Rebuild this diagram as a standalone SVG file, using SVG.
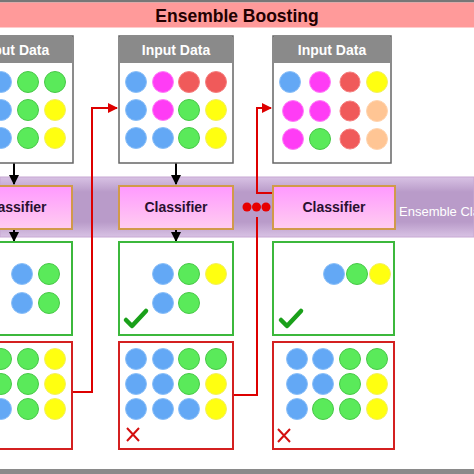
<svg xmlns="http://www.w3.org/2000/svg" width="474" height="474" viewBox="0 0 474 474">
<defs>
<linearGradient id="band" x1="0" y1="0" x2="0" y2="1">
<stop offset="0" stop-color="#d8c2e4"/>
<stop offset="0.25" stop-color="#b99bc9"/>
<stop offset="0.75" stop-color="#b99bc9"/>
<stop offset="1" stop-color="#d8c2e4"/>
</linearGradient>
<linearGradient id="cls" x1="0" y1="0" x2="0" y2="1">
<stop offset="0" stop-color="#ff99ff"/>
<stop offset="1" stop-color="#ffcdf0"/>
</linearGradient>
<marker id="ab" viewBox="0 0 10 10" refX="9" refY="5" markerWidth="5" markerHeight="5" orient="auto"><path d="M0,0 L10,5 L0,10 z" fill="#000"/></marker>
<marker id="ar" viewBox="0 0 10 10" refX="9" refY="5" markerWidth="5" markerHeight="5" orient="auto"><path d="M0,0 L10,5 L0,10 z" fill="#dd0000"/></marker>
</defs>
<style>
.t{font-family:"Liberation Sans",Arial,sans-serif;font-weight:bold;text-anchor:middle}
.box{fill:#fff;stroke:#666;stroke-width:1.5}
.hdr{fill:#8a8a8a}
.ht{font-size:14px;fill:#fff}
.cb{fill:url(#cls);stroke:#d19a4a;stroke-width:2}
.ct{font-size:14px;fill:#2a1030}
.gb{fill:#fff;stroke:#3cb83c;stroke-width:2}
.rb{fill:#fff;stroke:#d42020;stroke-width:2}
.b{fill:#63a8f5;stroke:#8cc0f8;stroke-width:1}
.g{fill:#5aea5a;stroke:#48c848;stroke-width:1}
.y{fill:#ffff10;stroke:#f4f060;stroke-width:1}
.m{fill:#ff3cf5;stroke:#ff80f8;stroke-width:1}
.r{fill:#f05a5a;stroke:#f58080;stroke-width:1}
.p{fill:#ffc594;stroke:#ffd5b0;stroke-width:1}
.blk{stroke:#000;stroke-width:2;fill:none}
.red{stroke:#dd0000;stroke-width:2;fill:none}
</style>
<rect x="0" y="0" width="474" height="474" fill="#fff"/>
<g id="title">
<rect x="0" y="0" width="474" height="2.5" fill="#777"/>
<rect x="0" y="2.5" width="474" height="25" fill="#ff9a9a"/>
<text class="t" x="237" y="22" font-size="17.5" fill="#200">Ensemble Boosting</text>
</g>
<g id="ensemble">
<rect x="0" y="177" width="474" height="60" fill="url(#band)" stroke="#c7a8d3" stroke-width="1"/>
<text x="399" y="216" font-family="Liberation Sans,Arial,sans-serif" font-size="13" fill="#fff">Ensemble Classifier</text>
</g>
<g id="connectors">
<line class="blk" x1="14" y1="163" x2="14" y2="184" marker-end="url(#ab)"/>
<line class="blk" x1="176" y1="163" x2="176" y2="184" marker-end="url(#ab)"/>
<line class="blk" x1="14" y1="229" x2="14" y2="241" marker-end="url(#ab)"/>
<line class="blk" x1="176" y1="229" x2="176" y2="241" marker-end="url(#ab)"/>
<path class="red" d="M73,392 H92 V108 H117" marker-end="url(#ar)"/>
<path class="red" d="M234,395 H257 V217"/>
<path class="red" d="M273,193 H257 V108 H271" marker-end="url(#ar)"/>
<circle cx="247" cy="207" r="4.5" fill="#e80000"/>
<circle cx="256.5" cy="207" r="4.5" fill="#e80000"/>
<circle cx="266" cy="207" r="4.5" fill="#e80000"/>
</g>
<g id="input1">
<rect class="box" x="-42" y="36" width="115" height="127"/>
<rect class="hdr" x="-41" y="37" width="113" height="26"/>
<text class="t ht" x="15" y="55">Input Data</text>
<circle class="b" cx="1" cy="82" r="10.5"/><circle class="g" cx="28" cy="82" r="10.5"/><circle class="g" cx="55" cy="82" r="10.5"/>
<circle class="b" cx="1" cy="110" r="10.5"/><circle class="g" cx="28" cy="110" r="10.5"/><circle class="y" cx="55" cy="110" r="10.5"/>
<circle class="b" cx="1" cy="138" r="10.5"/><circle class="g" cx="28" cy="138" r="10.5"/><circle class="y" cx="55" cy="138" r="10.5"/>
</g>
<g id="input2">
<rect class="box" x="119" y="36" width="114" height="127"/>
<rect class="hdr" x="120" y="37" width="112" height="26"/>
<text class="t ht" x="176" y="55">Input Data</text>
<circle class="b" cx="136" cy="82" r="10.5"/><circle class="m" cx="163" cy="82" r="10.5"/><circle class="r" cx="189" cy="82" r="10.5"/><circle class="r" cx="216" cy="82" r="10.5"/>
<circle class="b" cx="136" cy="110" r="10.5"/><circle class="m" cx="163" cy="110" r="10.5"/><circle class="g" cx="189" cy="110" r="10.5"/><circle class="y" cx="216" cy="110" r="10.5"/>
<circle class="b" cx="136" cy="138" r="10.5"/><circle class="b" cx="163" cy="138" r="10.5"/><circle class="g" cx="189" cy="138" r="10.5"/><circle class="y" cx="216" cy="138" r="10.5"/>
</g>
<g id="input3">
<rect class="box" x="273" y="36" width="118" height="127"/>
<rect class="hdr" x="274" y="37" width="116" height="26"/>
<text class="t ht" x="332" y="55">Input Data</text>
<circle class="b" cx="290" cy="82" r="10.5"/><circle class="m" cx="320" cy="82" r="10.5"/><circle class="r" cx="350" cy="82" r="10"/><circle class="y" cx="377" cy="82" r="10.5"/>
<circle class="m" cx="293" cy="111" r="10.5"/><circle class="m" cx="320" cy="111" r="10.5"/><circle class="r" cx="350" cy="111" r="10"/><circle class="p" cx="377" cy="111" r="10.5"/>
<circle class="m" cx="293" cy="139" r="10.5"/><circle class="g" cx="320" cy="139" r="10.5"/><circle class="r" cx="350" cy="139" r="10"/><circle class="p" cx="377" cy="139" r="10.5"/>
</g>
<g id="classifier1">
<rect class="cb" x="-42" y="186" width="114" height="43"/>
<text class="t ct" x="15" y="212">Classifier</text>
</g>
<g id="classifier2">
<rect class="cb" x="119" y="186" width="114" height="43"/>
<text class="t ct" x="176" y="212">Classifier</text>
</g>
<g id="classifier3">
<rect class="cb" x="273" y="186" width="122" height="43"/>
<text class="t ct" x="334" y="212">Classifier</text>
</g>
<g id="correct1">
<rect class="gb" x="-42" y="242" width="114" height="93"/>
<circle class="b" cx="22" cy="274" r="10.5"/><circle class="g" cx="49" cy="274" r="10.5"/>
<circle class="b" cx="22" cy="303" r="10.5"/><circle class="g" cx="49" cy="303" r="10.5"/>
</g>
<g id="correct2">
<rect class="gb" x="119" y="242" width="114" height="93"/>
<circle class="b" cx="163" cy="274" r="10.5"/><circle class="g" cx="189" cy="274" r="10.5"/><circle class="y" cx="216" cy="274" r="10.5"/>
<circle class="b" cx="163" cy="303" r="10.5"/><circle class="g" cx="189" cy="303" r="10.5"/>
<path d="M126,320 L132,326 L146,311" stroke="#1aa01a" stroke-width="4.5" fill="none" stroke-linecap="round" stroke-linejoin="round"/>
</g>
<g id="correct3">
<rect class="gb" x="273" y="242" width="121" height="93"/>
<circle class="b" cx="334" cy="274" r="10.5"/><circle class="g" cx="357" cy="274" r="10.5" stroke="#30b030"/><circle class="y" cx="380" cy="274" r="10.5"/>
<path d="M281,320 L287,326 L301,311" stroke="#1aa01a" stroke-width="4.5" fill="none" stroke-linecap="round" stroke-linejoin="round"/>
</g>
<g id="wrong1">
<rect class="rb" x="-42" y="342" width="114" height="107"/>
<circle class="g" cx="1" cy="359" r="10.5"/><circle class="g" cx="28" cy="359" r="10.5"/><circle class="y" cx="55" cy="359" r="10.5"/>
<circle class="g" cx="1" cy="384" r="10.5"/><circle class="g" cx="28" cy="384" r="10.5"/><circle class="y" cx="55" cy="384" r="10.5"/>
<circle class="b" cx="1" cy="409" r="10.5"/><circle class="g" cx="28" cy="409" r="10.5"/><circle class="y" cx="55" cy="409" r="10.5"/>
</g>
<g id="wrong2">
<rect class="rb" x="119" y="342" width="114" height="107"/>
<circle class="b" cx="136" cy="359" r="10.5"/><circle class="b" cx="163" cy="359" r="10.5"/><circle class="g" cx="189" cy="359" r="10.5"/><circle class="g" cx="216" cy="359" r="10.5"/>
<circle class="b" cx="136" cy="384" r="10.5"/><circle class="b" cx="163" cy="384" r="10.5"/><circle class="g" cx="189" cy="384" r="10.5"/><circle class="y" cx="216" cy="384" r="10.5"/>
<circle class="b" cx="136" cy="409" r="10.5"/><circle class="b" cx="163" cy="409" r="10.5"/><circle class="b" cx="189" cy="409" r="10.5"/><circle class="y" cx="216" cy="409" r="10.5"/>
<path d="M127,428 L139,441 M139,428 L127,441" stroke="#d41010" stroke-width="2"/>
</g>
<g id="wrong3">
<rect class="rb" x="273" y="342" width="121" height="107"/>
<circle class="b" cx="297" cy="359" r="10.5"/><circle class="b" cx="323" cy="359" r="10.5"/><circle class="g" cx="350" cy="359" r="10.5"/><circle class="g" cx="377" cy="359" r="10.5"/>
<circle class="b" cx="297" cy="384" r="10.5"/><circle class="b" cx="323" cy="384" r="10.5"/><circle class="g" cx="350" cy="384" r="10.5"/><circle class="y" cx="377" cy="384" r="10.5"/>
<circle class="b" cx="297" cy="409" r="10.5"/><circle class="g" cx="323" cy="409" r="10.5"/><circle class="g" cx="350" cy="409" r="10.5"/><circle class="y" cx="377" cy="409" r="10.5"/>
<path d="M278,429 L290,442 M290,429 L278,442" stroke="#d41010" stroke-width="2"/>
</g>
<rect x="0" y="469" width="474" height="5" fill="#8a8a8a"/>
</svg>
